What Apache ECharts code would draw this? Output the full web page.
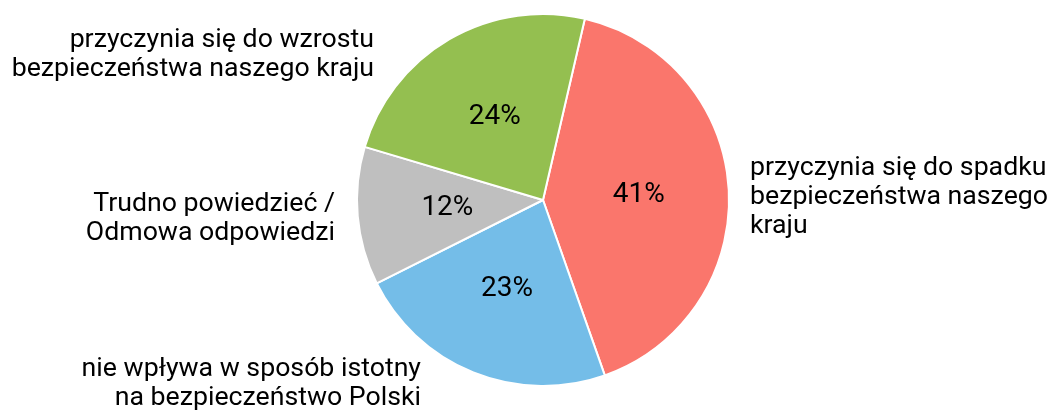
<!DOCTYPE html>
<html>
<head>
<meta charset="utf-8">
<script src="https://cdn.jsdelivr.net/npm/echarts@6/dist/echarts.min.js"></script>
<style>
  html, body { margin: 0; padding: 0; background: #fff; }
  #chart { width: 1051px; height: 413px; }
</style>
</head>
<body>
<div id="chart"></div>
<script>
// dane z wykresu
const categories = [
  "przyczynia się do spadku\nbezpieczeństwa naszego\nkraju",
  "nie wpływa w sposób istotny\nna bezpieczeństwo Polski",
  "Trudno powiedzieć /\nOdmowa odpowiedzi",
  "przyczynia się do wzrostu\nbezpieczeństwa naszego kraju"
];
const values = [41, 23, 12, 24];
const colors = ["#fa766c", "#74bde8", "#bfbfbf", "#94bf50"];

// pozycje opisów (x, y, wyrównanie)
const namePos = [
  [750, 197, "left"],
  [421, 384, "right"],
  [335, 219, "right"],
  [374, 55, "right"]
];

const chart = echarts.init(document.getElementById("chart"));

const pieData = values.map((v, i) => ({
  name: categories[i],
  value: v,
  itemStyle: { color: colors[i] }
}));

const common = {
  type: "pie",
  center: [543, 200],
  radius: 186,
  startAngle: 77,
  clockwise: true,
  animation: false
};

chart.setOption({
  textStyle: { fontFamily: "Roboto" },
  series: [
    Object.assign({}, common, {
      data: pieData,
      itemStyle: { borderColor: "#fff", borderWidth: 2 },
      label: {
        show: true,
        position: "inside",
        formatter: "{c}%",
        color: "#000",
        fontSize: 28,
        fontFamily: "Roboto"
      },
      labelLine: { show: false },
      emphasis: { disabled: true }
    }),
    Object.assign({}, common, {
      silent: true,
      data: pieData.map(d => ({ name: d.name, value: d.value })),
      itemStyle: { color: "rgba(0,0,0,0)" },
      label: {
        show: true,
        position: "outside",
        formatter: "{b}",
        color: "#000",
        fontSize: 26.7,
        lineHeight: 29,
        fontFamily: "Roboto",
        overflow: "none",
        width: 400
      },
      labelLine: { show: false },
      labelLayout: function (params) {
        const p = namePos[params.dataIndex];
        return { x: p[0], y: p[1], align: p[2], verticalAlign: "middle" };
      }
    })
  ]
});
</script>
</body>
</html>
